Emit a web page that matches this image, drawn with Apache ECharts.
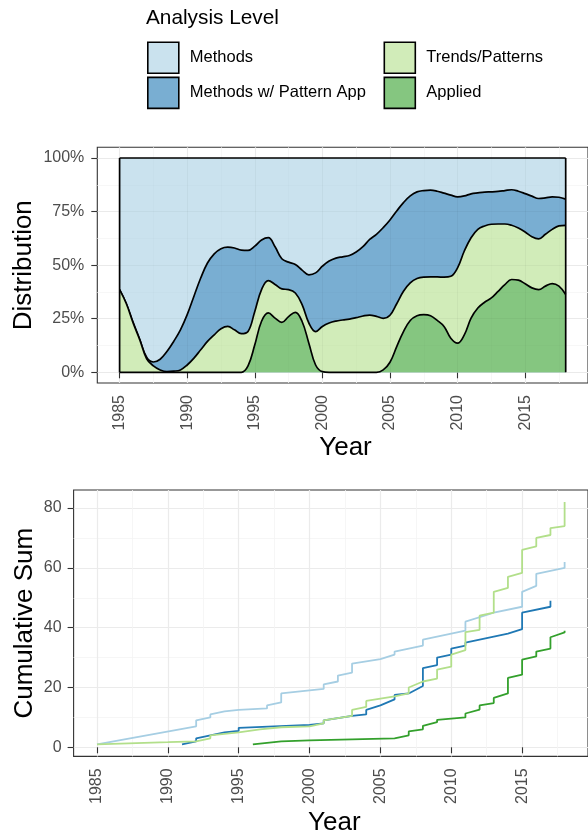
<!DOCTYPE html>
<html>
<head>
<meta charset="utf-8">
<script src="https://cdn.jsdelivr.net/npm/echarts@6/dist/echarts.min.js"></script>
<style>
  html, body { margin: 0; padding: 0; background: #ffffff; }
  #chart { width: 588px; height: 835px; }
</style>
</head>
<body>
<div id="chart"></div>
<script>
// ---- Categories and colours -------------------------------------------
const categories = ['Methods', 'Methods w/ Pattern App', 'Trends/Patterns', 'Applied'];
const lineColors = ['#A6CEE3', '#1F78B4', '#B2DF8A', '#33A02C'];
// palette colours at 60% over white
const fillColors = ['#CAE2EE', '#79AED2', '#D1ECB9', '#85C680'];

// ---- Upper panel: share of publications per level (stacked, %) --------
const densityYears = [
  1985, 1985.5, 1986, 1986.5, 1987, 1987.5, 1988, 1988.5, 1989, 1989.5,
  1990, 1990.5, 1991, 1991.5, 1992, 1992.5, 1993, 1993.5, 1994, 1994.5,
  1995, 1995.5, 1996, 1996.5, 1997, 1997.5, 1998, 1998.5, 1999, 1999.5,
  2000, 2000.5, 2001, 2001.5, 2002, 2002.5, 2003, 2003.5, 2004, 2004.5,
  2005, 2005.5, 2006, 2006.5, 2007, 2007.5, 2008, 2008.5, 2009, 2009.5,
  2010, 2010.5, 2011, 2011.5, 2012, 2012.5, 2013, 2013.5, 2014, 2014.5,
  2015, 2015.5, 2016, 2016.5, 2017, 2017.5, 2018
];
// cumulative upper edge of "Applied"
const appliedTop = [
  0, 0, 0, 0, 0, 0, 0, 0, 0, 0,
  0, 0, 0, 0, 0, 0, 0, 0, 0, 3,
  12.8, 23.8, 27.7, 25.3, 23.3, 26, 28, 23.7, 13.6, 3.4,
  0.3, 0, 0, 0, 0, 0, 0, 0, 0, 1.1,
  4.7, 12, 19, 24.2, 26.4, 26.9, 26.4, 24.2, 21.4, 15.9,
  13.6, 17.5, 25.3, 30, 32.7, 34.7, 37.8, 40.9, 43.3, 43,
  41.3, 39.4, 38.6, 40.2, 41.4, 40.2, 36.3
];
// cumulative upper edge of "Trends/Patterns"
const trendsTop = [
  38.6, 32, 23, 15, 6.3, 3, 1.1, 0.3, 0.5, 1.1,
  3.4, 6.6, 10.5, 14.4, 17.5, 20.3, 21.4, 19.8, 18, 19,
  28.4, 38.6, 42.8, 41, 38.9, 38.6, 37, 31.6, 23, 19,
  21.4, 23, 23.9, 24.4, 24.8, 25.5, 26.25, 26.7, 26.1, 25.2,
  26.6, 32, 37.8, 41.7, 43.75, 44.4, 44.5, 44.5, 44.4, 44.8,
  48.75, 56.6, 62.8, 66.7, 68.3, 69.1, 69.2, 69.2, 68.6, 67.3,
  65.5, 63.3, 62.3, 64.4, 66.7, 68.3, 68.6
];
// cumulative upper edge of "Methods w/ Pattern App"
const patternAppTop = [
  38.6, 32, 23.3, 15.2, 7, 4.8, 6.1, 9.7, 14.4, 19.8,
  26.9, 35.5, 44, 51, 55.3, 57.7, 58.4, 58, 57, 56.9,
  58.9, 61.7, 62.8, 58.6, 53, 51.4, 50.3, 47.7, 45.5, 46.4,
  49.5, 51.9, 53.3, 53.9, 54.5, 56.1, 58.6, 62, 64.4, 67.5,
  71.1, 75.3, 79.2, 82.3, 84.2, 84.8, 85, 84.5, 83.6, 82.7,
  81.9, 82.3, 83.3, 83.75, 84.1, 84.2, 84.4, 84.8, 85.2, 84.5,
  83.4, 82.2, 81.1, 81.4, 81.9, 81.7, 80.8
];
const totalShare = 100;
const shareTicks = [0, 25, 50, 75, 100];
const shareMinorTicks = [12.5, 37.5, 62.5, 87.5];

// ---- Lower panel: cumulative publication counts ------------------------
const methodsCum = [
  [1985, 1], [1992, 7], [1992, 9], [1993, 10], [1993, 11], [1994, 12], [1995, 12.5],
  [1997, 13], [1997, 14], [1998, 15], [1998, 18], [2000, 19], [2001, 19.5], [2001, 21],
  [2002, 22], [2002, 24], [2003, 25], [2003, 28], [2005, 29.5], [2006, 31], [2006, 32],
  [2008, 34], [2008, 36], [2010, 38], [2011, 39], [2011, 42], [2013, 45], [2015, 47],
  [2015, 52], [2016, 54], [2016, 58], [2018, 60], [2018, 62]
];
const patternAppCum = [
  [1991, 1], [1992, 2], [1992, 3], [1993, 4], [1994, 5], [1995, 5.5], [1995, 6.5],
  [2000, 7.5], [2001, 8], [2001, 9], [2003, 10.5], [2004, 11], [2004, 12.5], [2005, 14],
  [2006, 16], [2006, 17.5], [2007, 18], [2008, 20.5], [2008, 26.5], [2009, 27.5], [2009, 30],
  [2010, 31], [2010, 33], [2011, 34], [2011, 35], [2013, 37], [2014, 38], [2015, 39.5],
  [2015, 45], [2017, 47], [2017, 49]
];
const trendsCum = [
  [1985, 1], [1990, 1.7], [1992, 2], [1993, 3], [1993, 4], [1995, 5], [1996.5, 6],
  [1998, 6.7], [2000, 7], [2001, 8], [2001, 9], [2003, 10.5], [2003, 12.5], [2004, 13.5],
  [2004, 15.5], [2006, 17], [2007, 18], [2007, 20], [2008, 22], [2009, 23], [2009, 26],
  [2010, 27], [2010, 31], [2011, 32.5], [2011, 38.5], [2012, 39.3], [2012, 44], [2013, 45],
  [2013, 52], [2014, 53.3], [2014, 57], [2015, 58.3], [2015, 66], [2016, 67.2], [2016, 70],
  [2017, 71], [2017, 73.3], [2018, 74], [2018, 82]
];
const appliedCum = [
  [1996, 1], [1998, 2], [2000, 2.3], [2006, 3], [2007, 4], [2007, 5.3], [2008, 6],
  [2008, 7.2], [2009, 8.4], [2009, 9.2], [2011, 10], [2011, 11.3], [2012, 12.6], [2012, 14],
  [2013, 14.8], [2013, 16.5], [2014, 18], [2014, 23.2], [2015, 24.3], [2015, 29.3],
  [2016, 30.4], [2016, 32], [2017, 33], [2017, 36.8], [2018, 38.4], [2018, 39]
];
const countTicks = [0, 20, 40, 60, 80];
const countMinorTicks = [10, 30, 50, 70];

// ---- Shared year axis ticks -------------------------------------------
const yearTicks = [1985, 1990, 1995, 2000, 2005, 2010, 2015];
const yearMinorTicks = [1987.5, 1992.5, 1997.5, 2002.5, 2007.5, 2012.5, 2017.5];

// ---- Styling -------------------------------------------------------------
const FONT = '"Liberation Sans", Arial, Helvetica, sans-serif';
const TICK_COLOR = '#333333';
const LABEL_COLOR = '#4D4D4D';
const MAJOR_GRID = '#F3F3F3';
const MINOR_GRID = '#F9F9F9';
// faint grid drawn over the filled bands so it reads through them
const MAJOR_VEIL = 'rgba(0,0,0,0.035)';
const MINOR_VEIL = 'rgba(0,0,0,0.02)';

const yearStart = densityYears[0];
const yearEnd = densityYears[densityYears.length - 1];
const yearPad = (yearEnd - yearStart) * 0.05;
const yMinYear = yearStart - yearPad;
const yMaxYear = yearEnd + yearPad;

const allCounts = [].concat(methodsCum, patternAppCum, trendsCum, appliedCum).map(p => p[1]);
const countMin = Math.min.apply(null, allCounts);
const countMax = Math.max.apply(null, allCounts);
const countPad = (countMax - countMin) * 0.05;

const plainNumber = v => String(v);

function majorAxis(grid, min, max, ticks, labelOpts, gridColor) {
  return {
    type: 'value', gridIndex: grid, min: min, max: max,
    axisLine: { show: false },
    axisTick: { show: true, customValues: ticks, length: 6, lineStyle: { color: TICK_COLOR, width: 1.1 } },
    axisLabel: Object.assign({
      customValues: ticks, color: LABEL_COLOR, fontSize: 16, fontFamily: FONT, formatter: plainNumber
    }, labelOpts),
    splitLine: { show: true, lineStyle: { color: gridColor, width: 1.2 } },
    minorTick: { show: false }, minorSplitLine: { show: false }
  };
}
function lineOnlyAxis(grid, min, max, ticks, position, color, width, z) {
  return {
    type: 'value', gridIndex: grid, min: min, max: max, position: position, offset: 0, z: z,
    axisLine: { show: false },
    axisTick: { show: false, customValues: ticks },
    axisLabel: { show: false, customValues: ticks },
    splitLine: { show: true, lineStyle: { color: color, width: width } }
  };
}

const xAxes = [
  majorAxis(0, yMinYear, yMaxYear, yearTicks, { rotate: 90, margin: 12 }, MAJOR_GRID),  // 0
  lineOnlyAxis(0, yMinYear, yMaxYear, yearMinorTicks, 'bottom', MINOR_GRID, 0.8, 0),     // 1
  lineOnlyAxis(0, yMinYear, yMaxYear, yearTicks, 'bottom', MAJOR_VEIL, 1.2, 5),          // 2
  lineOnlyAxis(0, yMinYear, yMaxYear, yearMinorTicks, 'bottom', MINOR_VEIL, 0.8, 5),     // 3
  majorAxis(1, yMinYear, yMaxYear, yearTicks, { rotate: 90, margin: 12 }, '#EBEBEB'),   // 4
  lineOnlyAxis(1, yMinYear, yMaxYear, yearMinorTicks, 'bottom', '#F4F4F4', 0.8, 0)       // 5
];
const yAxes = [
  majorAxis(0, -5, 105, shareTicks, { margin: 13, formatter: '{value}%' }, MAJOR_GRID),  // 0
  lineOnlyAxis(0, -5, 105, shareMinorTicks, 'left', MINOR_GRID, 0.8, 0),                 // 1
  lineOnlyAxis(0, -5, 105, shareTicks, 'left', MAJOR_VEIL, 1.2, 5),                      // 2
  lineOnlyAxis(0, -5, 105, shareMinorTicks, 'left', MINOR_VEIL, 0.8, 5),                 // 3
  majorAxis(1, countMin - countPad, countMax + countPad, countTicks, { margin: 12 }, '#EBEBEB'), // 4
  lineOnlyAxis(1, countMin - countPad, countMax + countPad, countMinorTicks, 'left', '#F4F4F4', 0.8, 0) // 5
];

// Each band is drawn as an area from 0 up to its cumulative edge; later
// (lower) bands are painted over earlier ones.
function bandSeries(name, idx, edge, z) {
  return {
    name: name, type: 'line', xAxisIndex: 0, yAxisIndex: 0,
    smooth: 0.4, symbol: 'none', silent: true,
    data: densityYears.map((y, i) => [y, edge[i]]),
    lineStyle: { color: '#000000', width: 1.7 },
    itemStyle: { color: fillColors[idx] },
    areaStyle: { color: fillColors[idx], opacity: 1, origin: 0 },
    z: z
  };
}
function countSeries(name, idx, points) {
  return {
    name: name, type: 'line', xAxisIndex: 4, yAxisIndex: 4,
    symbol: 'none', silent: true, data: points,
    lineStyle: { color: lineColors[idx], width: 1.8 },
    itemStyle: { color: lineColors[idx] },
    z: 3
  };
}

const series = [
  bandSeries('Methods', 0, densityYears.map(() => totalShare), 2),
  bandSeries('Methods w/ Pattern App', 1, patternAppTop, 2.1),
  bandSeries('Trends/Patterns', 2, trendsTop, 2.2),
  bandSeries('Applied', 3, appliedTop, 2.3),
  {
    // closing edges of the filled region
    type: 'line', xAxisIndex: 0, yAxisIndex: 0, symbol: 'none', silent: true,
    data: [[yearStart, 0], [yearStart, totalShare]],
    lineStyle: { color: '#000000', width: 1.7 }, z: 6
  },
  {
    type: 'line', xAxisIndex: 0, yAxisIndex: 0, symbol: 'none', silent: true,
    data: [[yearEnd, 0], [yearEnd, totalShare]],
    lineStyle: { color: '#000000', width: 1.7 }, z: 6
  },
  countSeries('Methods', 0, methodsCum),
  countSeries('Methods w/ Pattern App', 1, patternAppCum),
  countSeries('Trends/Patterns', 2, trendsCum),
  countSeries('Applied', 3, appliedCum)
];

function legendBlock(left, names) {
  return {
    orient: 'vertical', left: left, top: 41.5, padding: 0,
    itemWidth: 31, itemHeight: 31, itemGap: 2.5,
    icon: 'rect', selectedMode: false,
    itemStyle: { borderColor: '#000000', borderWidth: 1.6 },
    textStyle: { fontSize: 16.5, color: '#000000', fontFamily: FONT, padding: [0, 0, 0, 6] },
    data: names.map(n => ({
      name: n, icon: 'rect',
      itemStyle: { color: fillColors[categories.indexOf(n)], borderColor: '#000000', borderWidth: 1.6 }
    }))
  };
}

function titleText(text, x, y, rotate) {
  return {
    type: 'text', x: x, y: y, rotation: rotate ? Math.PI / 2 : 0, silent: true,
    style: { text: text, fill: '#000000', font: '26px ' + FONT, align: 'center', verticalAlign: 'middle' }
  };
}

const chart = echarts.init(document.getElementById('chart'), null, { renderer: 'canvas' });
chart.setOption({
  animation: false,
  backgroundColor: '#ffffff',
  title: {
    text: 'Analysis Level', left: 146, top: 8, padding: 0,
    textStyle: { fontSize: 20.8, fontWeight: 'normal', color: '#000000', fontFamily: FONT }
  },
  legend: [
    legendBlock(147, ['Methods', 'Methods w/ Pattern App']),
    legendBlock(383.5, ['Trends/Patterns', 'Applied'])
  ],
  grid: [
    { left: 97.3, top: 147.3, width: 496.3, height: 235.7, show: true, borderColor: '#333333', borderWidth: 1.1, backgroundColor: 'transparent', containLabel: false },
    { left: 73.6, top: 490, width: 521.4, height: 266.4, show: true, borderColor: '#333333', borderWidth: 1.1, backgroundColor: 'transparent', containLabel: false }
  ],
  xAxis: xAxes,
  yAxis: yAxes,
  series: series,
  graphic: [
    titleText('Distribution', 24, 265.2, true),
    titleText('Year', 345.5, 448, false),
    titleText('Cumulative Sum', 25, 623.2, true),
    titleText('Year', 334.3, 822.5, false)
  ]
});
</script>
</body>
</html>
